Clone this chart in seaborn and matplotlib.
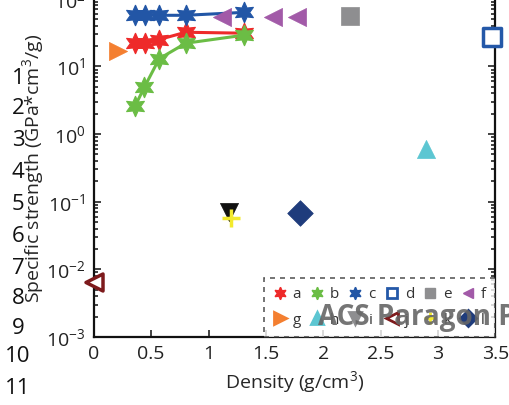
import matplotlib
matplotlib.use("Agg")
import matplotlib.pyplot as plt
from matplotlib.lines import Line2D
import seaborn as sns
import pandas as pd

# density (g/cm3) and specific strength (GPa*cm3/g)
a_x = [0.36, 0.45, 0.57, 0.80, 1.31]
a_y = [22, 22, 25, 32, 31]
b_x = [0.36, 0.44, 0.57, 0.80, 1.31]
b_y = [2.6, 4.9, 13, 22, 29]
c_x = [0.36, 0.45, 0.57, 0.80, 1.31]
c_y = [57, 57, 57, 57, 63]

single_pts = {
    # name: (x, y, colour, marker, filled)
    "d": ([3.47], [27], "#2458a8", "s", False),
    "e": ([2.23], [55], "#8e8e90", "s", True),
    "f": ([1.12, 1.56, 1.77], [53, 53, 53], "#a25aa8", "<", True),
    "g": ([0.21], [16.7], "#f47f30", ">", True),
    "h": ([2.90], [0.61], "#5cc6d2", "^", True),
    "i": ([1.18], [0.07], "#111111", "v", True),
    "j": ([0.0], [0.0065], "#7d1a1c", "<", False),
    "k": ([1.20], [0.058], "#f3ea2c", "P", True),
    "l": ([1.80], [0.069], "#1f3c7c", "D", True),
}

line_colors = {"a": "#ee2a2a", "b": "#6bbd45", "c": "#2256a6"}
star = (6, 1, 0)

sns.set_style("ticks")
plt.rcParams["font.family"] = ["Open Sans", "DejaVu Sans"]
plt.rcParams["mathtext.default"] = "regular"

fig = plt.figure(figsize=(5.1, 4.05), dpi=100)
ax = fig.add_axes([0.184, 0.168, 0.787, 0.835])

for name, xs, ys in [("a", a_x, a_y), ("b", b_x, b_y), ("c", c_x, c_y)]:
    df = pd.DataFrame({"x": xs, "y": ys})
    sns.lineplot(data=df, x="x", y="y", ax=ax, color=line_colors[name],
                 marker=star, markersize=15, markeredgecolor=line_colors[name],
                 linewidth=2.2, sort=False, estimator=None)

for name, (xs, ys, col, mk, filled) in single_pts.items():
    df = pd.DataFrame({"x": xs, "y": ys})
    if mk == "P":
        sns.scatterplot(data=df, x="x", y="y", ax=ax, marker="+", s=160,
                        color=col, linewidth=2.5, zorder=5)
    elif filled:
        sns.scatterplot(data=df, x="x", y="y", ax=ax, marker=mk, s=170,
                        color=col, edgecolor=col, linewidth=0.5, zorder=4)
    else:
        sns.scatterplot(data=df, x="x", y="y", ax=ax, marker=mk, s=150,
                        facecolor="white", edgecolor=col, linewidth=2.5,
                        zorder=4, clip_on=False)

ax.set_yscale("log")
ax.set_xlim(0, 3.5)
ax.set_ylim(1e-3, 1e2)
ax.set_xticks([0, 0.5, 1, 1.5, 2, 2.5, 3, 3.5])
ax.set_xticklabels(["0", "0.5", "1", "1.5", "2", "2.5", "3", "3.5"])
ax.tick_params(which="both", direction="in", top=False, right=True,
               labelsize=14, colors="#222222", width=1.2)
ax.tick_params(which="major", length=5, pad=6)
ax.tick_params(which="minor", length=3)
for sp in ax.spines.values():
    sp.set_linewidth(1.6)
    sp.set_color("#111111")
ax.set_xlabel("Density (g/cm$^3$)", fontsize=14, labelpad=4)
ax.set_ylabel("Specific strength (GPa*cm$^3$/g)", fontsize=14, labelpad=0)

handles = []
labels = []
for name in ["a", "b", "c"]:
    handles.append(Line2D([], [], linestyle="none", marker=star, markersize=9,
                          color=line_colors[name]))
    labels.append(name)
for name in ["d", "e", "f"]:
    xs, ys, col, mk, filled = single_pts[name]
    handles.append(Line2D([], [], linestyle="none", marker=mk, markersize=7,
                          color=col, markerfacecolor=col if filled else "white",
                          markeredgewidth=2 if not filled else 1))
    labels.append(name)
for name in ["g", "h", "i", "j", "k", "l"]:
    xs, ys, col, mk, filled = single_pts[name]
    if name == "i":
        col = "#8e8e90"
    m = "+" if mk == "P" else mk
    handles.append(Line2D([], [], linestyle="none", marker=m, markersize=8,
                          color=col, markerfacecolor=col if filled else "white",
                          markeredgewidth=2))
    labels.append(name)

# reorder so that ncol=6 fills rows a..f then g..l
order = []
for col_i in range(6):
    order += [col_i, col_i + 6]
leg = ax.legend([handles[i] for i in order], [labels[i] for i in order],
                ncol=6, loc="lower right", bbox_to_anchor=(1.0, 0.0),
                fontsize=11, handlelength=0.9, handletextpad=0.4,
                columnspacing=0.6, borderpad=0.6, labelspacing=0.7,
                fancybox=False, frameon=True, borderaxespad=0)
leg.get_frame().set_edgecolor("#333333")
leg.get_frame().set_linestyle((0, (3, 3)))
leg.get_frame().set_linewidth(1.2)
for t in leg.get_texts():
    t.set_color("#333333")

# manuscript line numbers
line_y = [78, 108, 140, 172, 205, 237, 268, 298, 328, 357, 388]
for i, yy in enumerate(line_y):
    fig.text(18 / 510, 1 - yy / 405, str(i + 1), fontsize=16, ha="center",
             va="center", color="#111111")

fig.text(318 / 510, 0.215, "ACS Paragon P", fontsize=20, fontweight="bold",
         color="#666666", ha="left", va="center", alpha=0.9)

fig.savefig("out.png", dpi=100)
